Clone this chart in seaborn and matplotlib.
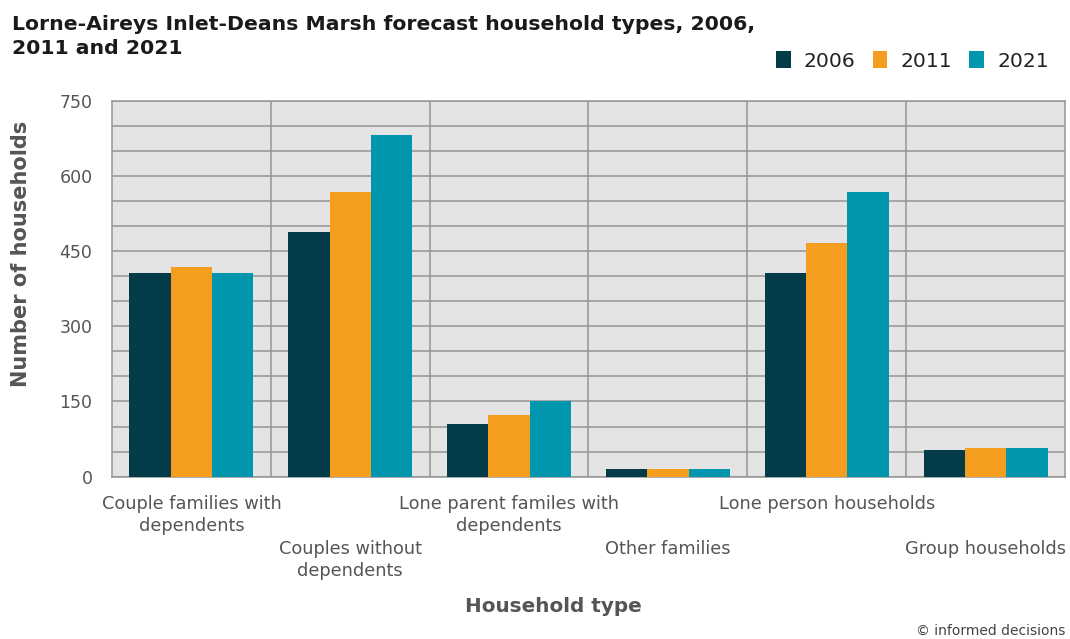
import matplotlib
matplotlib.use("Agg")
import matplotlib.pyplot as plt
import seaborn as sns
import pandas as pd
from matplotlib.patches import Patch

# Household types and forecast counts
categories = [
    "Couple families with\ndependents",
    "Couples without\ndependents",
    "Lone parent familes with\ndependents",
    "Other families",
    "Lone person households",
    "Group households",
]
years = ["2006", "2011", "2021"]
values_2006 = [407, 489, 105, 16, 407, 53]
values_2011 = [419, 567, 124, 16, 467, 58]
values_2021 = [407, 681, 150, 16, 567, 57]
y_ticks = [0, 150, 300, 450, 600, 750]

colors = {"2006": "#033c48", "2011": "#f59d1e", "2021": "#0096ae"}

rows = []
for year, vals in zip(years, [values_2006, values_2011, values_2021]):
    for cat, v in zip(categories, vals):
        rows.append({"Household type": cat, "Year": year, "Households": v})
df = pd.DataFrame(rows)

sns.set_style("white")
plt.rcParams["font.family"] = ["DejaVu Sans"]

fig = plt.figure(figsize=(10.7, 6.39), dpi=100)
ax = fig.add_axes([112 / 1070, 1 - 476.7 / 639, (1065 - 112) / 1070, (476.7 - 100.7) / 639])
ax.set_facecolor("#e4e4e4")

sns.barplot(data=df, x="Household type", y="Households", hue="Year",
            palette=colors, width=0.78, saturation=1, ax=ax, zorder=3)
if ax.get_legend() is not None:
    ax.get_legend().remove()
for p in ax.patches:
    p.set_edgecolor("none")

grid_col = "#959595"
ax.set_ylim(0, 750)
ax.set_xlim(-0.5, len(categories) - 0.5)
ax.set_yticks(y_ticks)
ax.set_yticks(range(0, 751, 50), minor=True)
ax.yaxis.grid(True, which="both", color=grid_col, lw=1.1, zorder=1)
ax.set_axisbelow(True)
for i in range(len(categories) - 1):
    ax.axvline(i + 0.5, color=grid_col, lw=1.1, zorder=1)

ax.tick_params(axis="y", which="major", length=8, color=grid_col, width=1.1,
               labelsize=12.5, labelcolor="#555555", pad=6)
ax.tick_params(axis="y", which="minor", length=0)

# Alternate category labels on two rows
positions = list(range(len(categories)))
ax.set_xticks(positions[0::2])
ax.set_xticklabels(categories[0::2], linespacing=1.3)
ax.set_xticks(positions[1::2], minor=True)
ax.set_xticklabels(categories[1::2], minor=True, linespacing=1.3)
ax.tick_params(axis="x", which="major", length=8, width=1, color="#8a8a8a",
               labelsize=12.8, labelcolor="#555555", pad=5)
ax.tick_params(axis="x", which="minor", length=40, width=1, color="#8a8a8a",
               labelsize=12.8, labelcolor="#555555", pad=5.5)

for s in ax.spines.values():
    s.set_color(grid_col)
    s.set_linewidth(1.1)

ax.set_xlabel("")
ax.set_ylabel("Number of households", fontsize=15, fontweight="bold",
              color="#555555")
ax.yaxis.set_label_coords(31 / 1070, 1 - 254 / 639, transform=fig.transFigure)

fig.text(553 / 1070, 1 - 606 / 639, "Household type", ha="center", va="center",
         fontsize=14.4, fontweight="bold", color="#555555")

fig.text(12 / 1070, 1 - 15 / 639,
         "Lorne-Aireys Inlet-Deans Marsh forecast household types, 2006,\n2011 and 2021",
         ha="left", va="top", fontsize=14.7, fontweight="bold", color="#1a1a1a",
         linespacing=1.32)

handles = [Patch(facecolor=colors[y], edgecolor="none", label=y) for y in years]
fig.legend(handles=handles, loc="center right", ncol=3, frameon=False,
           bbox_to_anchor=(1067 / 1070, 1 - 61 / 639), fontsize=14.6,
           handlelength=0.72, handleheight=0.85, handletextpad=0.65,
           columnspacing=0.85, labelcolor="#222222")

fig.text(1065 / 1070, 1 - 631 / 639, "© informed decisions", ha="right",
         va="center", fontsize=10, color="#444444")

fig.savefig("out.png", dpi=100)
